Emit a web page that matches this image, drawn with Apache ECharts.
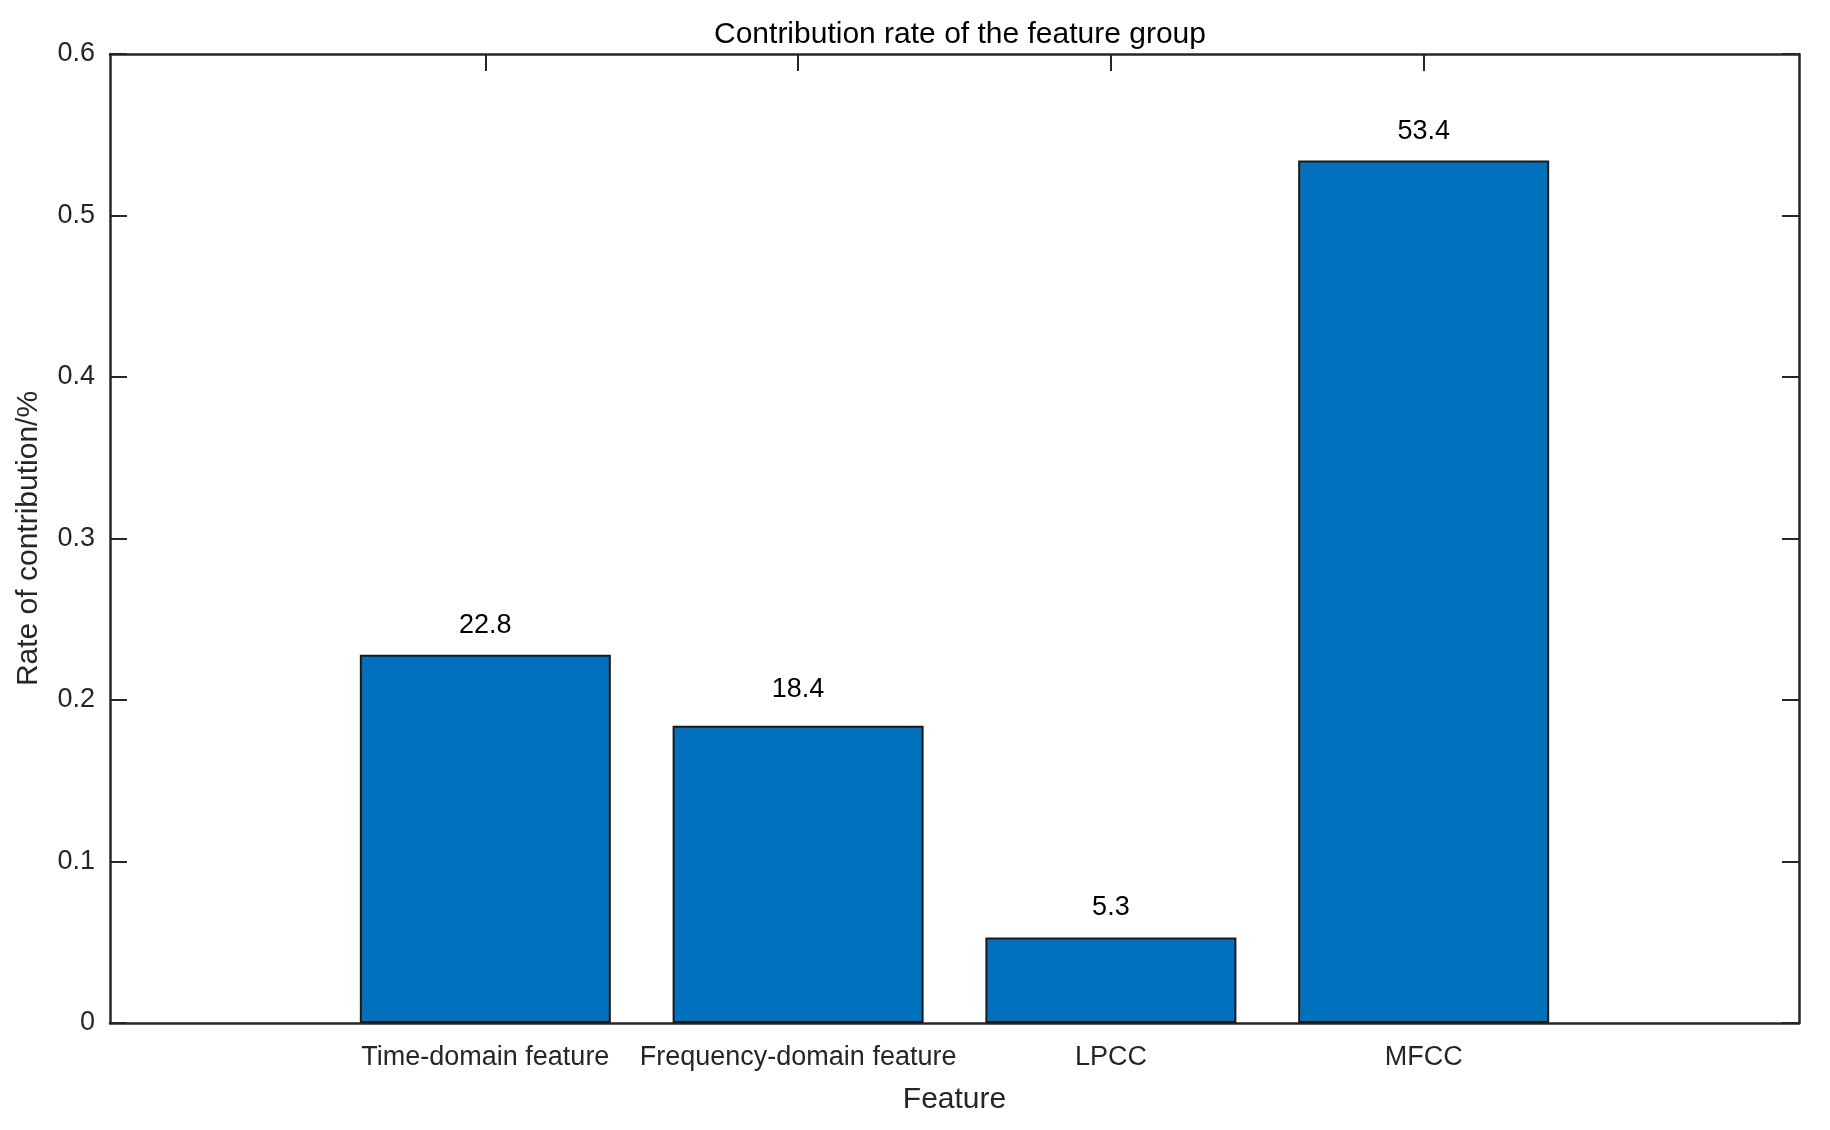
<!DOCTYPE html>
<html>
<head>
<meta charset="utf-8">
<script src="https://cdn.jsdelivr.net/npm/echarts@6/dist/echarts.min.js"></script>
<style>
html,body{margin:0;padding:0;background:#fff;}
#chart{width:1830px;height:1130px;}
</style>
</head>
<body>
<div id="chart"></div>
<script>
const categories = ['Time-domain feature', 'Frequency-domain feature', 'LPCC', 'MFCC'];
const contributionRate = [0.228, 0.184, 0.053, 0.534];
const yTicks = [0, 0.1, 0.2, 0.3, 0.4, 0.5, 0.6];

const positions = categories.map((c, i) => i + 1);
const labelDistance = [16, 23, 16, 16];
const barData = categories.map((c, i) => ({
  value: [i + 1, contributionRate[i]],
  label: {distance: labelDistance[i]}
}));

const font = '"Liberation Sans", Arial, sans-serif';
const ink = '#262626';

const chart = echarts.init(document.getElementById('chart'), null, {renderer: 'canvas'});

const xCommon = {
  type: 'value', min: -0.2, max: 5.2,
  splitLine: {show: false},
  axisLine: {show: true, onZero: false, lineStyle: {color: ink, width: 2.5}},
  axisTick: {show: true, inside: true, length: 17, customValues: positions, lineStyle: {color: ink, width: 2}}
};
const yCommon = {
  type: 'value', min: 0, max: 0.6, interval: 0.1,
  splitLine: {show: false},
  axisLine: {show: true, onZero: false, lineStyle: {color: ink, width: 2.5}},
  axisTick: {show: true, inside: true, length: 17, lineStyle: {color: ink, width: 2}}
};

chart.setOption({
  backgroundColor: '#ffffff',
  animation: false,
  title: {
    text: 'Contribution rate of the feature group',
    left: 955, top: 15, textAlign: 'center',
    textStyle: {fontFamily: font, fontSize: 30, fontWeight: 'normal', color: '#000'}
  },
  grid: {left: 110, right: 31, top: 54, bottom: 107, containLabel: false},
  xAxis: [
    Object.assign({}, xCommon, {
      position: 'bottom',
      name: 'Feature', nameLocation: 'middle', nameGap: 62,
      nameTextStyle: {fontFamily: font, fontSize: 30, color: ink},
      axisLabel: {
        show: true, margin: 21, customValues: positions,
        fontFamily: font, fontSize: 27, color: ink,
        formatter: v => categories[Math.round(v) - 1] || ''
      }
    }),
    Object.assign({}, xCommon, {position: 'top', axisLabel: {show: false}})
  ],
  yAxis: [
    Object.assign({}, yCommon, {
      position: 'left',
      name: 'Rate of contribution/%', nameLocation: 'middle', nameGap: 66,
      nameTextStyle: {fontFamily: font, fontSize: 30, color: ink},
      axisLabel: {
        show: true, margin: 15, fontFamily: font, fontSize: 27, color: ink,
        formatter: v => {
          const t = yTicks.find(k => Math.abs(k - v) < 1e-9);
          return t === 0 ? '0' : (t !== undefined ? t.toFixed(1) : '');
        }
      }
    }),
    Object.assign({}, yCommon, {position: 'right', axisLabel: {show: false}})
  ],
  series: [{
    type: 'bar',
    xAxisIndex: 0, yAxisIndex: 0,
    data: barData,
    barWidth: 251,
    itemStyle: {color: '#0072BD', borderColor: '#1a1a1a', borderWidth: 2},
    label: {
      show: true, position: 'top', distance: 16,
      fontFamily: font, fontSize: 27, color: '#000',
      formatter: p => (p.value[1] * 100).toFixed(1)
    }
  }]
});
</script>
</body>
</html>
